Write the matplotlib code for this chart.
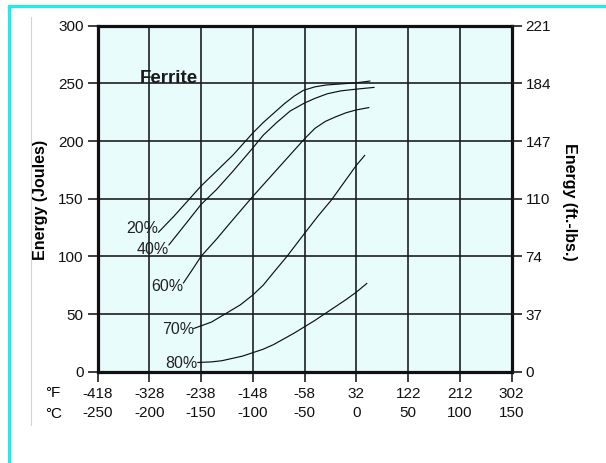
import matplotlib
matplotlib.use("Agg")
import matplotlib.pyplot as plt
from matplotlib.lines import Line2D
from matplotlib import font_manager

# ---- data -------------------------------------------------------------
temp_c_20 = [-191, -176, -161, -150, -135, -119, -100, -90, -80, -70, -60, -51, -40, -29, -15, 0, 13]
energy_20 = [121, 135, 150, 161, 174, 188, 207, 216, 224, 232, 239, 244, 247, 248.6, 249.5, 250.5, 252]

temp_c_40 = [-181, -165, -150, -135, -120, -100, -90, -77, -64, -50, -40, -28, -15, 0, 17]
energy_40 = [110, 128, 145, 158, 173, 194, 205, 216, 226, 233, 237, 241, 243.5, 245, 246.5]

temp_c_60 = [-167, -158, -150, -135, -120, -100, -90, -80, -70, -60, -50, -40, -30, -20, -10, 0, 12]
energy_60 = [77, 89, 100, 115, 131, 152, 162, 172, 182, 192, 202, 211, 217, 221, 224.5, 227, 229]

temp_c_70 = [-157, -140, -125, -112, -100, -90, -80, -67, -50, -37, -24, -12, 0, 8]
energy_70 = [37.5, 43, 51, 58, 66.5, 75, 86, 100, 120, 135, 149, 164, 179, 187.5]

temp_c_80 = [-153, -140, -130, -120, -110, -100, -90, -80, -70, -60, -50, -40, -30, -20, -10, 0, 10]
energy_80 = [8, 8.5, 9.5, 11.5, 13.5, 16.5, 19.5, 23.5, 28.5, 33.5, 39, 44.5, 50.5, 56.5, 62.5, 69, 76.5]

curve_labels = ["20%", "40%", "60%", "70%", "80%"]

celsius_ticks = [-250, -200, -150, -100, -50, 0, 50, 100, 150]
fahrenheit_labels = ["-418", "-328", "-238", "-148", "-58", "32", "122", "212", "302"]
celsius_labels = ["-250", "-200", "-150", "-100", "-50", "0", "50", "100", "150"]

joule_ticks = [0, 50, 100, 150, 200, 250, 300]
ftlb_labels = ["0", "37", "74", "110", "147", "184", "221"]

# ---- fonts ------------------------------------------------------------
installed = {f.name for f in font_manager.fontManager.ttflist}
narrow = "Liberation Sans Narrow" if "Liberation Sans Narrow" in installed else "Liberation Sans"
tick_size = 12.5 if narrow == "Liberation Sans Narrow" else 11
tick_font = dict(family=[narrow, "DejaVu Sans"], size=tick_size)
sans = ["Liberation Sans", "DejaVu Sans"]

# ---- figure -----------------------------------------------------------
W, H = 606, 463
fig = plt.figure(figsize=(W / 100, H / 100), dpi=100)
fig.patch.set_facecolor("white")

left_px, right_px, top_px, bottom_px = 97.5, 511.7, 25.7, 371.7
ax = fig.add_axes([left_px / W, 1 - bottom_px / H,
                   (right_px - left_px) / W, (bottom_px - top_px) / H])
ax.set_facecolor("#e8fcfc")
ax.set_xlim(-250, 150)
ax.set_ylim(0, 300)

grid_color = "#1e1e1e"
ax.set_xticks(celsius_ticks)
ax.set_yticks(joule_ticks)
ax.grid(True, color=grid_color, linewidth=1.2, zorder=1)
ax.set_axisbelow(True)
for sp in ax.spines.values():
    sp.set_linewidth(2.3)
    sp.set_color("#111111")
    sp.set_zorder(5)

xlabels = [f"{f}\n{c}" for f, c in zip(fahrenheit_labels, celsius_labels)]
ax.set_xticklabels(xlabels, fontdict=tick_font, linespacing=1.5, color="#111111")
ax.set_yticklabels([str(v) for v in joule_ticks], fontdict=tick_font, color="#111111")
ax.tick_params(axis="both", direction="out", length=7, width=1.2, color=grid_color)
ax.tick_params(axis="x", pad=4)
ax.tick_params(axis="y", pad=3)

ax2 = ax.twinx()
ax2.set_ylim(0, 300)
ax2.set_yticks(joule_ticks)
ax2.set_yticklabels(ftlb_labels, fontdict=tick_font, color="#111111")
ax2.tick_params(axis="y", direction="out", length=7, width=1.2, color=grid_color, pad=3)
for sp in ax2.spines.values():
    sp.set_visible(False)

# ---- curves -----------------------------------------------------------
label_offsets = [(0, 2.5), (0, -3.5), (0, -2.5), (0, -1), (0, -1)]
series = [(temp_c_20, energy_20), (temp_c_40, energy_40), (temp_c_60, energy_60),
          (temp_c_70, energy_70), (temp_c_80, energy_80)]
for (tc, en), lab, off in zip(series, curve_labels, label_offsets):
    ax.plot(tc, en, color="#111111", linewidth=0.85, zorder=3)
    ax.annotate(lab, xy=(tc[0], en[0]), xytext=off, textcoords="offset points",
                ha="right", va="center", fontsize=11.5,
                family=sans, color="#222222", zorder=4)

ax.text(-209.5, 254, "Ferrite", ha="left", va="center", fontsize=13.5,
        fontweight="bold", family=sans, color="#1a1a1a", zorder=4)

# ---- axis titles and unit markers ------------------------------------
fig.text(41 / W, 1 - 200 / H, "Energy (Joules)", rotation=90, ha="center", va="center",
         fontsize=11.5, fontweight="bold", family=sans)
fig.text(569 / W, 1 - 202 / H, "Energy (ft.-lbs.)", rotation=270, ha="center", va="center",
         fontsize=11.5, fontweight="bold", family=sans)
fig.text(45 / W, 1 - 393 / H, "°F", ha="left", va="center", fontsize=tick_size, family=[narrow, "DejaVu Sans"])
fig.text(45 / W, 1 - 414 / H, "°C", ha="left", va="center", fontsize=tick_size, family=[narrow, "DejaVu Sans"])

# ---- page frame -------------------------------------------------------
fig.add_artist(Line2D([31 / W, 31 / W], [1 - 17 / H, 1 - 425 / H],
                      transform=fig.transFigure, color="#d4d4d4", linewidth=0.8))
fig.add_artist(Line2D([9 / W, 1.0], [1 - 6 / H, 1 - 6 / H],
                      transform=fig.transFigure, color="#12f2f2", linewidth=2.2))
fig.add_artist(Line2D([9 / W, 9 / W], [1 - 6 / H, 0.0],
                      transform=fig.transFigure, color="#12f2f2", linewidth=2.2))

fig.savefig("out.png", dpi=100)
